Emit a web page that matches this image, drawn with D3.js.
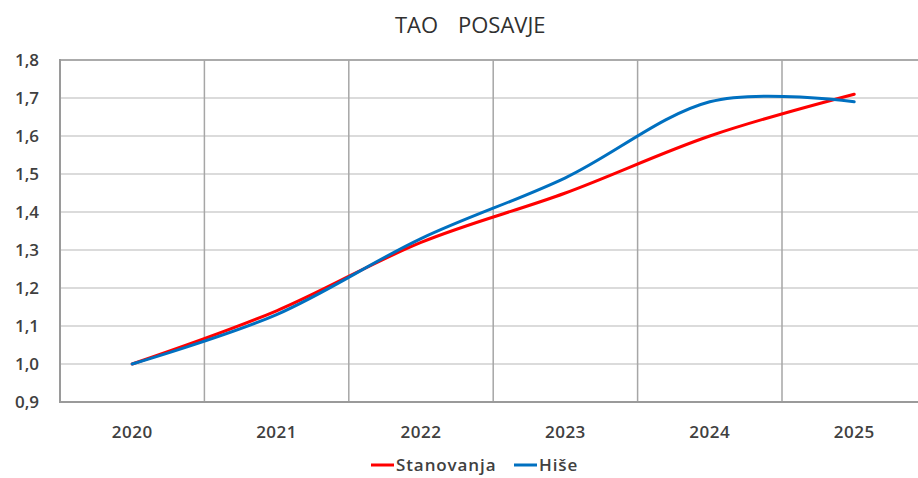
<!DOCTYPE html>
<html>
<head>
<meta charset="utf-8">
<script src="https://cdn.jsdelivr.net/npm/d3@7"></script>
<style>
  html, body { margin: 0; padding: 0; background: #fff; }
  svg { display: block; }
  text { font-family: "Open Sans", "Liberation Sans", sans-serif; }
</style>
</head>
<body>
<svg id="chart" width="918" height="478"></svg>
<script>
// Price index, base 2020 = 1,0
const years = ["2020", "2021", "2022", "2023", "2024", "2025"];
const stanovanja = [1.00, 1.14, 1.32, 1.45, 1.60, 1.71];
const hise = [1.00, 1.13, 1.33, 1.49, 1.69, 1.69];
const yTicks = [0.9, 1.0, 1.1, 1.2, 1.3, 1.4, 1.5, 1.6, 1.7, 1.8];
const seriesNames = ["Stanovanja", "Hiše"];
const seriesColors = ["#ff0000", "#0070c0"];
const titleParts = ["TAO", "POSAVJE"];

const svg = d3.select("#chart");
const plotLeft = 60, plotTop = 60, plotBottom = 402, catW = 144.4;
const plotRight = plotLeft + catW * years.length;

const x = d3.scaleBand().domain(years).range([plotLeft, plotRight]).paddingInner(0).paddingOuter(0);
const y = d3.scaleLinear().domain([0.9, 1.8]).range([plotBottom, plotTop]);

const locale = d3.formatLocale({ decimal: ",", thousands: ".", grouping: [3], currency: ["", "€"] });
const fmt = locale.format(".1f");

// horizontal gridlines
svg.append("g").selectAll("line").data(yTicks.filter(d => d > 0.9)).join("line")
  .attr("x1", plotLeft).attr("x2", plotRight)
  .attr("y1", d => y(d)).attr("y2", d => y(d))
  .attr("stroke", d => d === 1.8 ? "#ababab" : "#cfcfcf")
  .attr("stroke-width", d => d === 1.8 ? 2 : 1.5);

// vertical gridlines on category boundaries
svg.append("g").selectAll("line").data(years.slice(1)).join("line")
  .attr("x1", d => x(d)).attr("x2", d => x(d))
  .attr("y1", plotTop).attr("y2", plotBottom)
  .attr("stroke", "#a6a6a6").attr("stroke-width", 1.5);

// axis lines
svg.append("line").attr("x1", plotLeft).attr("x2", plotLeft).attr("y1", plotTop - 1).attr("y2", plotBottom + 1)
  .attr("stroke", "#9a9a9a").attr("stroke-width", 2);
svg.append("line").attr("x1", plotLeft).attr("x2", plotRight).attr("y1", plotBottom).attr("y2", plotBottom)
  .attr("stroke", "#9a9a9a").attr("stroke-width", 2);

// y tick labels
svg.append("g").selectAll("text").data(yTicks).join("text")
  .attr("x", 39).attr("y", d => y(d)).attr("dy", "0.36em")
  .attr("text-anchor", "end").attr("font-size", 17).attr("font-weight", 600)
  .attr("fill", "#404040").text(d => fmt(d));

// x tick labels
svg.append("g").selectAll("text").data(years).join("text")
  .attr("x", d => x(d) + x.bandwidth() / 2).attr("y", 432).attr("dy", "0.36em")
  .attr("text-anchor", "middle").attr("font-size", 17).attr("font-weight", 600)
  .attr("letter-spacing", 0.5)
  .attr("fill", "#404040").text(d => d);

// title
svg.append("g").selectAll("text").data(titleParts).join("text")
  .attr("x", (d, i) => i === 0 ? 395 : 458).attr("y", 25).attr("dy", "0.36em")
  .attr("font-size", 22).attr("fill", "#303030")
  .text(d => d);

// smoothed series lines
const line = d3.line()
  .x((d, i) => x(years[i]) + x.bandwidth() / 2)
  .y(d => y(d))
  .curve(d3.curveCardinal.tension(0));

[stanovanja, hise].forEach((vals, i) => {
  svg.append("path").datum(vals)
    .attr("d", line).attr("fill", "none")
    .attr("stroke", seriesColors[i]).attr("stroke-width", 3)
    .attr("stroke-linecap", "round");
});

// legend
const legendItems = [{ x: 371, name: seriesNames[0], color: seriesColors[0] },
                     { x: 514, name: seriesNames[1], color: seriesColors[1] }];
const lg = svg.append("g").selectAll("g").data(legendItems).join("g")
  .attr("transform", d => `translate(${d.x},465)`);
lg.append("line").attr("x1", 0).attr("x2", 23).attr("y1", 0).attr("y2", 0)
  .attr("stroke", d => d.color).attr("stroke-width", 3);
lg.append("text").attr("x", 25).attr("dy", "0.36em").attr("font-size", 17)
  .attr("letter-spacing", 0.9)
  .attr("font-weight", 600).attr("fill", "#404040").text(d => d.name);
</script>
</body>
</html>
